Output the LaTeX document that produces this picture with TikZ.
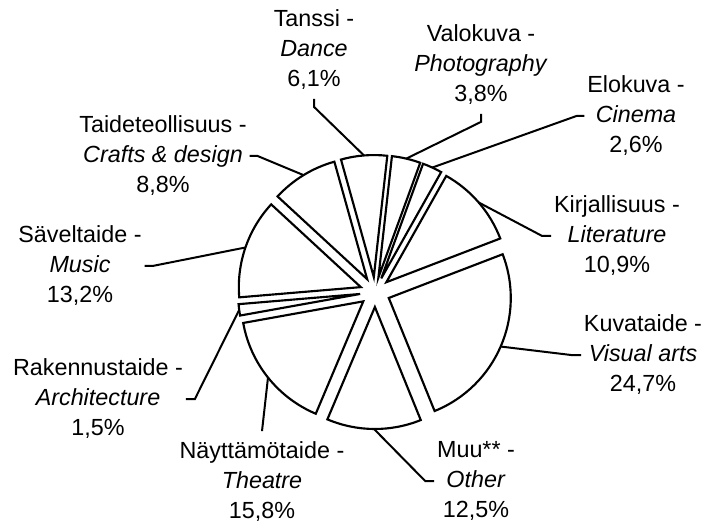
\documentclass[tikz,border=0pt]{standalone}
\usepackage{fontspec}
\setmainfont{Liberation Sans}
\usetikzlibrary{calc}

\begin{document}
\begin{tikzpicture}[%
        x=0.75pt, y=0.75pt,
        slice/.style={draw=black, fill=white, line width=1.6pt, line join=miter},
        leader/.style={draw=black, line width=1.5pt},
        pielabel/.style={align=center, inner sep=2pt,
            font=\fontsize{17.5}{22.5}\selectfont}
    ]
        \useasboundingbox (0,0) rectangle (706,525);
        \coordinate (C) at (375,233);

        % exploded slices, clockwise
        \foreach \n/\a/\b in
            {kuva/21/-67.92, muu/-67.92/-112.92, nay/-112.92/-169.8,
             rak/-169.8/-175.2, savel/184.8/137.28, taide/137.28/105.6,
             tanssi/105.6/83.64, valo/83.64/69.96, elo/69.96/60.6,
             kirja/60.6/21}
        {
            \pgfmathsetmacro{\m}{(\a+\b)/2}
            \draw [slice] ($(C)+(\m:15)$) -- ++(\a:122)
                arc [start angle=\a, end angle=\b, radius=122] -- cycle;
            \coordinate (end-\n) at ($(C)+(\m:137)$);
        }

        \node [pielabel] (tanssi) at (314,475) {Tanssi -\\\textit{Dance}\\6,1\%};
        \node [pielabel] (valo)   at (481,460) {Valokuva -\\\textit{Photography}\\3,8\%};
        \node [pielabel] (elo)    at (636,409) {Elokuva -\\\textit{Cinema}\\2,6\%};
        \node [pielabel] (kirja)  at (617,289) {Kirjallisuus -\\\textit{Literature}\\10,9\%};
        \node [pielabel] (kuva)   at (643,170) {Kuvataide -\\\textit{Visual arts}\\24,7\%};
        \node [pielabel] (muu)    at (476,44)  {Muu** -\\\textit{Other}\\12,5\%};
        \node [pielabel] (nay)    at (262,43)  {Näyttämötaide -\\\textit{Theatre}\\15,8\%};
        \node [pielabel] (rak)    at (98,126)  {Rakennustaide -\\\textit{Architecture}\\1,5\%};
        \node [pielabel] (savel)  at (80,259)  {Säveltaide -\\\textit{Music}\\13,2\%};
        \node [pielabel] (taide)  at (163,369) {Taideteollisuus -\\\textit{Crafts \& design}\\8,8\%};

        % leader lines
        \draw [leader] ([yshift=-4.5pt]tanssi.south) -- ++(0,-8) -- (end-tanssi);
        \draw [leader] ([yshift=-4.5pt]valo.south) -- ++(0,-8) -- (end-valo);
        \draw [leader] (elo.west) -- ++(-8,0) -- (end-elo);
        \draw [leader] (kirja.west) -- ++(-9,0) -- (end-kirja);
        \draw [leader] (kuva.west) -- ++(-10,0) -- (end-kuva);
        \draw [leader] (muu.west) -- ++(-9,0) -- (end-muu);
        \draw [leader] ([yshift=6pt]nay.north) -- (end-nay);
        \draw [leader] (rak.east) -- ++(9,0) -- (end-rak);
        \draw [leader] (savel.east) -- ++(8,0) -- (end-savel);
        \draw [leader] (taide.east) -- ++(8,0) -- (end-taide);
    \end{tikzpicture}
\end{document}
